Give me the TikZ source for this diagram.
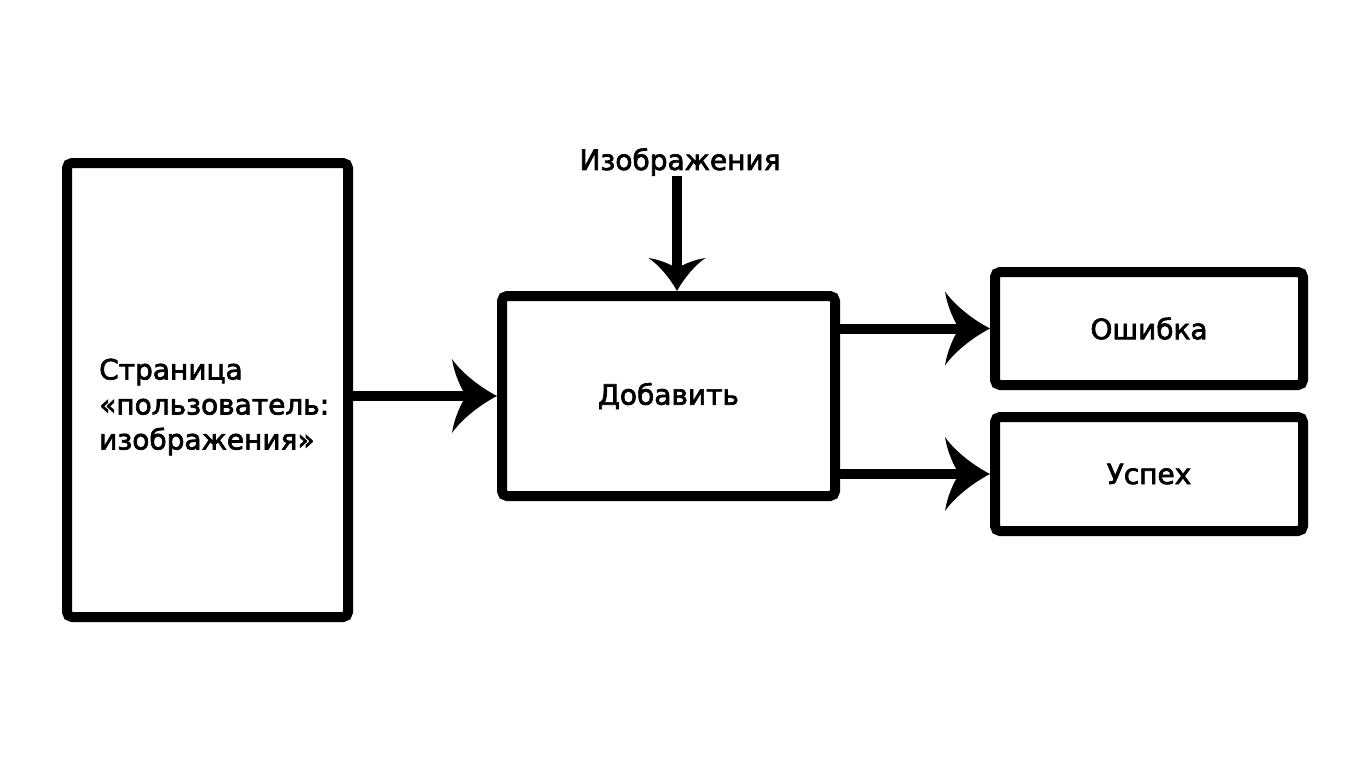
\documentclass[tikz,border=0pt]{standalone}
\usepackage{fontspec}
\setmainfont[FakeBold=2.5]{DejaVu Sans}
\usetikzlibrary{arrows.meta}
\pgfdeclarearrow{
  name=CurvyTip,
  parameters={\the\pgfarrowlength,\the\pgfarrowwidth},
  setup code={
    \pgfarrowssettipend{0pt}
    \pgfarrowssetlineend{-.6\pgfarrowlength}
    \pgfarrowssetbackend{-\pgfarrowlength}
    \pgfarrowssetvisualbackend{-.68\pgfarrowlength}
    \pgfarrowshullpoint{0pt}{0pt}
    \pgfarrowsupperhullpoint{-\pgfarrowlength}{.5\pgfarrowwidth}
    \pgfarrowssavethe\pgfarrowlength
    \pgfarrowssavethe\pgfarrowwidth
  },
  drawing code={
    \pgfpathmoveto{\pgfqpoint{0pt}{0pt}}
    \pgfpathcurveto{\pgfpoint{-.4\pgfarrowlength}{.125\pgfarrowwidth}}{\pgfpoint{-.8\pgfarrowlength}{.325\pgfarrowwidth}}{\pgfpoint{-\pgfarrowlength}{.5\pgfarrowwidth}}
    \pgfpathcurveto{\pgfpoint{-.95\pgfarrowlength}{.3\pgfarrowwidth}}{\pgfpoint{-.8\pgfarrowlength}{.1\pgfarrowwidth}}{\pgfpoint{-.68\pgfarrowlength}{0pt}}
    \pgfpathcurveto{\pgfpoint{-.8\pgfarrowlength}{-.1\pgfarrowwidth}}{\pgfpoint{-.95\pgfarrowlength}{-.3\pgfarrowwidth}}{\pgfpoint{-\pgfarrowlength}{-.5\pgfarrowwidth}}
    \pgfpathcurveto{\pgfpoint{-.8\pgfarrowlength}{-.325\pgfarrowwidth}}{\pgfpoint{-.4\pgfarrowlength}{-.125\pgfarrowwidth}}{\pgfqpoint{0pt}{0pt}}
    \pgfpathclose
    \pgfusepathqfill
  },
  defaults={length=45pt, width=74pt}
}
\begin{document}
\begin{tikzpicture}[x=1pt,y=-1pt,
  box/.style={draw, line width=10pt, rounded corners=5pt, inner sep=0pt},
  lbl/.style={font=\fontsize{28pt}{35pt}\selectfont, inner sep=0pt},
  bigarrow/.style={line width=10pt, -{CurvyTip[length=45pt,width=74pt]}},
  smallarrow/.style={line width=10pt, -{CurvyTip[length=33pt,width=57pt]}}
]
\useasboundingbox[fill=white] (0,0) rectangle (1366,768);
\node[box, minimum width=281pt, minimum height=454pt] (page) at (207.5,390) {};
\node[lbl, align=left, anchor=west] (pagetext) at (99,407) {Страница\\«пользователь:\\изображения»};
\node[box, minimum width=333pt, minimum height=200pt, lbl] (add) at (668.5,396) {Добавить};
\node[box, minimum width=308pt, minimum height=113pt, lbl] (err) at (1149,328.5) {Ошибка};
\node[box, minimum width=308pt, minimum height=114pt, lbl] (ok) at (1149,474) {Успех};
\node[lbl, anchor=south] (img) at (680,176) {Изображения};
\coordinate (imgstart) at ([xshift=-3pt]img.south);
\draw[smallarrow] (imgstart) -- (imgstart |- add.north);
\draw[bigarrow] (page.east |- add) -- (add.west);
\draw[bigarrow] (add.east |- err) -- (err.west);
\draw[bigarrow] (add.east |- ok) -- (ok.west);
\end{tikzpicture}
\end{document}
